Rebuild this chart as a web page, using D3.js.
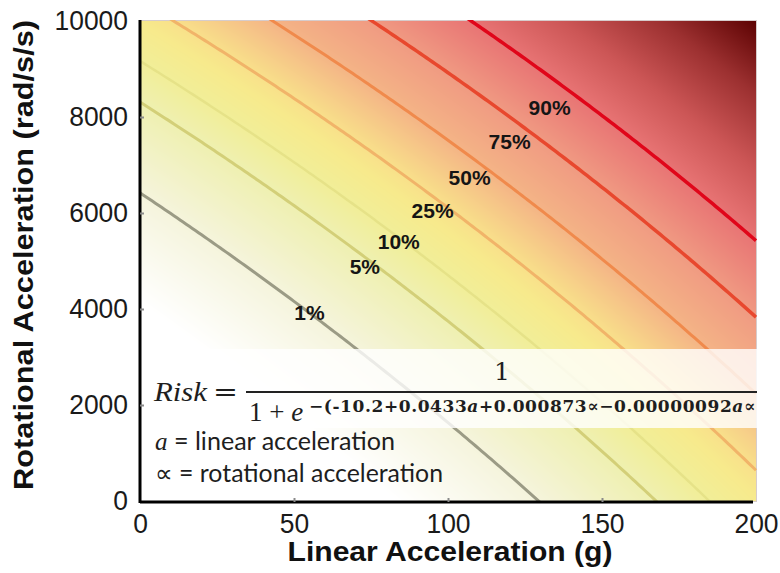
<!DOCTYPE html>
<html>
<head>
<meta charset="utf-8">
<script src="https://cdn.jsdelivr.net/npm/d3@7"></script>
<style>
  html, body { margin: 0; padding: 0; background: #fff; }
  svg { display: block; }
</style>
</head>
<body>
<svg id="chart" width="780" height="573"></svg>
<script>
// Logistic risk model terms: intercept, linear acceleration a, rotational acceleration ∝, interaction a·∝
const modelTerms = [-10.2, 0.0433, 0.000873, -0.00000092];

// Iso-risk levels drawn as contour lines
const riskLevels = [0.01, 0.05, 0.10, 0.25, 0.50, 0.75, 0.90];
const riskLabels = ["1%", "5%", "10%", "25%", "50%", "75%", "90%"];

// Axis ticks
const linearTicks = [0, 50, 100, 150, 200];
const rotationalTicks = [0, 2000, 4000, 6000, 8000, 10000];

// Where each level's label sits (linear g, rotational rad/s/s)
const labelLinear = [55, 73, 84, 95, 107, 120, 133];
const labelRotational = [3920, 4880, 5400, 6060, 6730, 7480, 8190];

// Styling
const lineColors = ["#9b9b85", "#d3cf78", "#e6e288", "#f1b469", "#f08a4c", "#e8482e", "#e0061a"];
const lineWidths = [3, 3, 2.5, 3, 3, 3.5, 3.5];
const rampStops  = [-6.6, -4.6, -3.0, -2.2, -1.5, -1.1, -0.5, 0, 1.1, 2.2, 3.2, 4.3, 5.4];
const rampColors = ["#ffffff", "#f5f4dc", "#eff0b2", "#f1ee98", "#f7ea8c", "#f8e08a", "#f6c888",
                    "#f4b486", "#f09a82", "#e87474", "#cc5656", "#9c3030", "#5a0000"];

const svg = d3.select("#chart");
const plotLeft = 140, plotRight = 756, plotTop = 21, plotBottom = 501;

const x = d3.scaleLinear().domain([0, 200]).range([plotLeft, plotRight]);
const y = d3.scaleLinear().domain([0, 10000]).range([plotBottom, plotTop]);

// linear predictor (log-odds) of the model
const [b0, b1, b2, b3] = modelTerms;
const logOdds = (a, r) => b0 + b1 * a + b2 * r + b3 * a * r;

const ramp = d3.scaleLinear().domain(rampStops).range(rampColors)
  .interpolate(d3.interpolateRgb).clamp(true);

// ---- heat map of the risk surface, painted into a canvas ----
const hx0 = 140, hx1 = 757, hy0 = 20, hy1 = 502;
const cw = hx1 - hx0, ch = hy1 - hy0;
const canvas = document.createElement("canvas");
canvas.width = cw; canvas.height = ch;
const ctx = canvas.getContext("2d");
const img = ctx.createImageData(cw, ch);
for (let j = 0; j < ch; j++) {
  const r = y.invert(hy0 + j + 0.5);
  for (let i = 0; i < cw; i++) {
    const a = x.invert(hx0 + i + 0.5);
    const c = d3.rgb(ramp(logOdds(a, r)));
    const k = (j * cw + i) * 4;
    img.data[k] = c.r; img.data[k + 1] = c.g; img.data[k + 2] = c.b; img.data[k + 3] = 255;
  }
}
ctx.putImageData(img, 0, 0);

svg.append("image")
  .attr("x", hx0).attr("y", hy0).attr("width", cw).attr("height", ch)
  .attr("preserveAspectRatio", "none")
  .attr("href", canvas.toDataURL());

svg.append("rect")
  .attr("x", hx0 + 0.5).attr("y", hy0 + 0.5).attr("width", cw - 1).attr("height", ch - 1)
  .attr("fill", "none").attr("stroke", "#d6cccc").attr("stroke-width", 1);

// ---- iso-risk contour lines ----
svg.append("clipPath").attr("id", "plotClip")
  .append("rect").attr("x", hx0).attr("y", hy0).attr("width", cw).attr("height", ch);

const aSamples = d3.range(0, 200.01, 1);
const contourLine = d3.line().x(d => x(d[0])).y(d => y(d[1])).curve(d3.curveLinear);

const lines = svg.append("g").attr("clip-path", "url(#plotClip)");
riskLevels.forEach((p, i) => {
  const L = Math.log(p / (1 - p));
  const pts = aSamples.map(a => [a, (L - b0 - b1 * a) / (b2 + b3 * a)]);
  lines.append("path")
    .attr("d", contourLine(pts))
    .attr("fill", "none")
    .attr("stroke", lineColors[i])
    .attr("stroke-width", lineWidths[i])
    .attr("stroke-linejoin", "round");
});

// ---- level labels ----
svg.append("g").selectAll("text")
  .data(riskLabels)
  .join("text")
  .attr("x", (d, i) => x(labelLinear[i]))
  .attr("y", (d, i) => y(labelRotational[i]))
  .attr("text-anchor", "middle")
  .attr("dominant-baseline", "central")
  .attr("font-family", "Liberation Sans, Arial, sans-serif")
  .attr("font-weight", "bold")
  .attr("font-size", 21)
  .attr("fill", "#151515")
  .text(d => d);

// ---- equation band ----
svg.append("rect")
  .attr("x", 141).attr("y", 349).attr("width", 616).attr("height", 79)
  .attr("fill", "#ffffff").attr("fill-opacity", 0.8);

const eq = svg.append("g").attr("fill", "#1e1e1e");
eq.append("text")
  .attr("x", 154).attr("y", 401)
  .attr("font-family", "Liberation Serif, serif").attr("font-style", "italic")
  .attr("font-size", 28).attr("textLength", 53).attr("lengthAdjust", "spacingAndGlyphs")
  .text("Risk");
eq.append("text")
  .attr("x", 213).attr("y", 401)
  .attr("font-family", "DejaVu Serif, serif")
  .attr("font-size", 26).attr("textLength", 25).attr("lengthAdjust", "spacingAndGlyphs")
  .text("=");
eq.append("line")
  .attr("x1", 246).attr("x2", 757).attr("y1", 392).attr("y2", 392)
  .attr("stroke", "#222").attr("stroke-width", 2.2);
eq.append("text")
  .attr("x", 502).attr("y", 380).attr("text-anchor", "middle")
  .attr("font-family", "DejaVu Serif, serif").attr("font-size", 25)
  .text("1");

// denominator: 1 + e^{-(linear predictor)} as one text run with a raised exponent
const den = eq.append("text")
  .attr("x", 249).attr("y", 421)
  .attr("font-family", "Liberation Serif, serif").attr("font-size", 27);
den.append("tspan").text("1 + ");
den.append("tspan").attr("font-style", "italic").text("e");
const expo = den.append("tspan")
  .attr("x", 309).attr("dy", -9)
  .attr("font-family", "DejaVu Serif, serif").attr("font-size", 17)
  .attr("font-weight", "bold");
expo.append("tspan").text(`−(${b0}+${b1}`);
expo.append("tspan").attr("font-style", "italic").text("a");
expo.append("tspan").text(`+${b2}∝−${Math.abs(b3).toFixed(8)}`);
expo.append("tspan").attr("font-style", "italic").text("a");
expo.append("tspan").text("∝");
// spread the exponent to run from x=309 to the right edge of the plot
{
  const node = expo.node();
  const w = node.getComputedTextLength();
  const n = node.textContent.length;
  if (w > 0) expo.attr("letter-spacing", ((447 - w) / n).toFixed(3));
}

// variable legend
const leg = svg.append("g").attr("fill", "#1e1e1e");
const legendRows = [
  { sym: "a", italic: true, text: " = linear acceleration", yb: 450, w: 240 },
  { sym: "∝", italic: false, text: " = rotational acceleration", yb: 482, w: 288 }
];
legendRows.forEach(row => {
  const t = leg.append("text")
    .attr("x", 155).attr("y", row.yb)
    .attr("font-size", 25)
    .attr("textLength", row.w).attr("lengthAdjust", "spacingAndGlyphs");
  t.append("tspan")
    .attr("font-family", row.italic ? "Liberation Serif, serif" : "DejaVu Sans, sans-serif")
    .attr("font-style", row.italic ? "italic" : "normal")
    .text(row.sym);
  t.append("tspan").attr("font-family", "Lato, sans-serif").text(row.text);
});

// ---- axes ----
const xAxis = d3.axisBottom(x).tickValues(linearTicks).tickFormat(d3.format("d"))
  .tickSizeInner(-4).tickSizeOuter(0).tickPadding(11);
const yAxis = d3.axisLeft(y).tickValues(rotationalTicks).tickFormat(d3.format("d"))
  .tickSizeInner(-4).tickSizeOuter(0).tickPadding(12);

const gx = svg.append("g").attr("transform", "translate(0,502)").call(xAxis);
const gy = svg.append("g").attr("transform", "translate(140,0)").call(yAxis);

[gx, gy].forEach(g => {
  g.select(".domain").attr("stroke", "#000").attr("stroke-width", 3);
  g.selectAll(".tick line").attr("stroke", "#8a8a8a").attr("stroke-width", 2);
  g.selectAll(".tick text")
    .attr("font-family", "Liberation Sans, Arial, sans-serif")
    .attr("font-size", 28).attr("fill", "#1a1a1a")
    .attr("textLength", d => String(d).length * 14.7)
    .attr("lengthAdjust", "spacingAndGlyphs");
});
gx.select(".domain").attr("d", `M${plotLeft},0H753`);
gy.select(".domain").attr("d", `M0,503V20`);
gx.selectAll(".tick").filter(d => d === 0 || d === 200).select("line").remove();
gy.selectAll(".tick").filter(d => d === 0 || d === 10000).select("line").remove();

// axis titles
svg.append("text")
  .attr("x", 450).attr("y", 561).attr("text-anchor", "middle")
  .attr("font-family", "Liberation Sans, Arial, sans-serif").attr("font-weight", "bold")
  .attr("font-size", 28).attr("fill", "#111")
  .attr("textLength", 325).attr("lengthAdjust", "spacingAndGlyphs")
  .text("Linear Acceleration (g)");
svg.append("text")
  .attr("transform", "translate(33,255) rotate(-90)")
  .attr("text-anchor", "middle")
  .attr("font-family", "Liberation Sans, Arial, sans-serif").attr("font-weight", "bold")
  .attr("font-size", 28).attr("fill", "#111")
  .attr("textLength", 470).attr("lengthAdjust", "spacingAndGlyphs")
  .text("Rotational Acceleration (rad/s/s)");
</script>
</body>
</html>
